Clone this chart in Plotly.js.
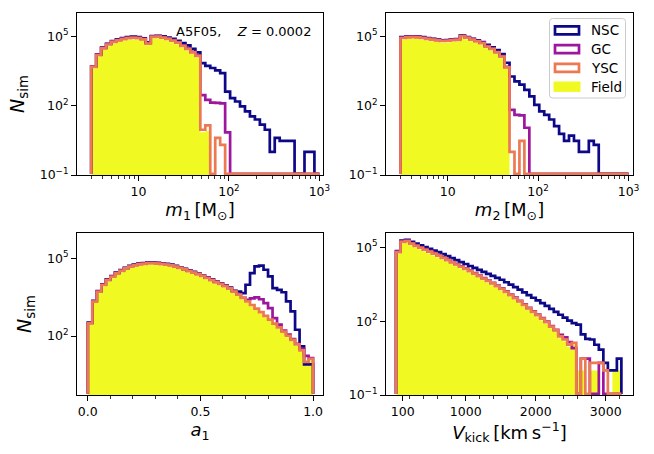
<!DOCTYPE html>
<html><head><meta charset="utf-8">
<script src="https://cdn.plot.ly/plotly-3.0.1.min.js"></script>
<style>html,body{margin:0;padding:0;background:#fff}</style>
</head><body><div id="chart" style="width:654px;height:454px"></div>
<script>
// ---------------- DATA ----------------
const seriesNames = ['NSC', 'GC', 'YSC', 'Field'];
const noteText = 'A5F05,\u00a0\u00a0\u00a0\u00a0<i>Z</i>\u00a0=\u00a00.0002';

// histogram binning (as used by the histogram call)
const massBins = {min: 3, max: 1000, n: 46, log: true};
const spinBins = {min: 0, max: 1, n: 50, log: false};
const kickBins = {min: 4, max: 3224, n: 50, log: false};

// m1 counts per bin
const m1_NSC = [5000,16200,32000,47000,61000,72000,82000,91000,95000,91000,81000,54000,100000,104000,97000,87000,76000,63000,50000,40000,28000,20000,6800,5200,4200,3300,2500,400,210,150,93,56,34,25,15,9,1,4,3,3,3,0,0,1,1,0];
const m1_GC = [4900,15800,31000,45800,59000,69400,77800,85400,89400,85400,76000,50300,98000,100300,91500,79700,67800,55100,40000,29600,21000,14800,280,175,135,130,125,7,0,0,0,0,0,0,0,0,0,0,0,0,0,0,0,0,0,0];
const m1_YSC = [4700,15100,29500,43600,56200,66100,74100,81300,85100,81300,72400,47900,93300,95500,87100,75900,64600,52500,38000,28200,20000,14100,9,14,0,4,2,0,0,0,0,0,0,0,0,0,0,0,0,0,0,0,0,0,0,0];
const m1_Field = [4000,12800,25000,37000,47800,56200,63000,69100,72300,69100,61500,40700,79300,81200,74000,64500,54900,44600,32300,24000,17000,12000,7,8,0,0,0,0,0,0,0,0,0,0,0,0,0,0,0,0,0,0,0,0,0,0];

// m2 counts per bin
const m2_NSC = [89900,96200,98500,96200,89900,82000,76500,71400,66600,68100,73000,74700,108000,91900,76500,65100,55000,42000,33000,25000,16600,7100,1800,1100,800,480,250,107,56,40,25,13,6,3,5,3,1,1,3,2,0,0,0,0,0,0];
const m2_GC = [86500,92700,94800,92700,86500,78900,73600,68700,64200,65600,70300,72000,104000,88500,73600,62700,52100,36900,29300,20800,13700,4700,65,40,38,11,0,0,0,0,0,0,0,0,0,0,0,0,0,0,0,0,0,0,0,0];
const m2_YSC = [83200,89100,91200,89100,83200,75900,70800,66100,61700,63100,67600,69200,100000,85100,70800,60300,50100,35500,28200,20000,13200,4500,1,0,3,0,0,0,0,0,0,0,0,0,0,0,0,0,0,0,0,0,0,0,0,0];
const m2_Field = [70700,75700,77500,75700,70700,64500,60200,56200,52400,53600,57500,58800,85000,72300,60200,51300,42600,30200,24000,17000,11200,3800,0,0,0,0,0,0,0,0,0,0,0,0,0,0,0,0,0,0,0,0,0,0,0,0];

// a1 counts per bin
const a1_NSC = [328,2270,5440,9890,15300,20700,27900,35100,43100,50800,56900,62400,65400,68500,68500,66900,63900,61000,56900,50800,45300,39400,34300,29900,26000,22200,18400,15400,12700,10800,9020,7340,5570,5250,4570,9550,26900,49000,52500,36300,20000,7080,6030,4900,2190,890,174,40,8,8];
const a1_GC = [318,2200,5280,9610,14900,20100,27100,34100,41900,49300,55300,60700,63600,66500,66500,65000,62100,59200,55300,49300,44000,38300,33400,29000,25200,21500,17900,14900,12400,10500,8770,7130,5410,4100,3000,2510,2820,3090,2630,1860,1200,490,275,160,112,76,50,32,17,14];
const a1_YSC = [309,2140,5130,9330,14450,19500,26300,33100,40700,47900,53700,58900,61700,64600,64600,63100,60300,57500,53700,47900,42700,37200,32400,28200,24500,20900,17400,14500,12000,10200,8510,6920,5250,3980,2950,2190,1580,1150,832,603,427,302,214,148,102,71,48,28,10,13];
const a1_Field = [272,1880,4510,8210,12700,17200,23100,29100,35800,42200,47300,51800,54300,56800,56800,55500,53100,50600,47300,42200,37600,32700,28500,24800,21600,18400,15300,12800,10600,8980,7490,6090,4620,3500,2600,1930,1390,1010,732,531,376,266,188,130,90,62,42,25,9,11];

// Vkick counts per bin
const vk_NSC = [69200,186000,200000,166000,141000,120000,102000,87100,74100,63100,52500,43600,36300,30200,25100,20900,17400,14500,12000,10000,8320,6920,5750,4790,3800,3020,2400,1910,1480,1150,891,692,537,417,316,240,182,138,105,83,72,29,19,18,11,7,2,1,1,3];
const vk_GC = [66300,174000,187000,148000,121000,100000,83400,69400,57800,48000,39100,31700,25700,21000,17000,13900,11200,8940,7100,5640,4480,3560,2760,2140,1630,1210,894,663,480,348,252,183,132,96,63,44,28,22,14,8,0,3,3,0,0,2,0,0,0,0];
const vk_YSC = [63100,166000,178000,141000,115000,95500,79400,66100,55000,45700,37200,30200,24500,20000,16200,13200,10700,8510,6760,5370,4270,3390,2630,2040,1550,1150,851,631,457,331,240,174,126,91,60,42,24,18,11,13,0,3,0,2,2,2,1,0,0,0];
const vk_Field = [53600,141000,151000,120000,97800,81200,67500,56200,46800,38800,31600,25700,20800,17000,13800,11200,9100,7230,5750,4560,3630,2880,2240,1730,1320,978,723,536,388,281,204,148,107,77,51,36,20,15,9,11,1,1,0,1,1,0,0,0,1,1];

// tick labels
const massTickVals = [10, 100, 1000];
const massTickText = ['10', '10<sup>2</sup>', '10<sup>3</sup>'];
const countTickVals = [0.1, 100, 100000];
const countTickText = ['10<sup>\u22121</sup>', '10<sup>2</sup>', '10<sup>5</sup>'];
const spinTickVals = [0, 0.5, 1];
const spinTickText = ['0.0', '0.5', '1.0'];
const kickTickVals = [100, 1000, 2000, 3000];
const kickTickText = ['100', '1000', '2000', '3000'];

// ---------------- STYLE ----------------
const W = 654, H = 454;
const fx = x => x / W, fy = y => 1 - y / H;
const COLORS = {NSC: '#0d0887', GC: '#9c179e', YSC: '#ed7953', Field: '#f0f921'};
const FONT = 'DejaVu Sans, Liberation Sans, sans-serif';
const LW = 2.7;

function binEdges(b) {
  const e = [];
  for (let k = 0; k <= b.n; k++) {
    if (b.log) {
      const l0 = Math.log10(b.min), l1 = Math.log10(b.max);
      e.push(Math.pow(10, l0 + (l1 - l0) * k / b.n));
    } else {
      e.push(b.min + (b.max - b.min) * k / b.n);
    }
  }
  return e;
}
function stepXY(edges, counts, floor) {
  const x = [edges[0]], y = [floor];
  for (let i = 0; i < counts.length; i++) {
    x.push(edges[i]);
    y.push(counts[i] > 0 ? counts[i] : floor);
  }
  x.push(edges[edges.length - 1]); y.push(counts[counts.length - 1] > 0 ? counts[counts.length - 1] : floor);
  x.push(edges[edges.length - 1]); y.push(floor);
  return {x, y};
}

const panels = [
  {xa: 'x', ya: 'y', bins: massBins, data: {NSC: m1_NSC, GC: m1_GC, YSC: m1_YSC, Field: m1_Field}, yMinLog: -1},
  {xa: 'x2', ya: 'y2', bins: massBins, data: {NSC: m2_NSC, GC: m2_GC, YSC: m2_YSC, Field: m2_Field}, yMinLog: -1},
  {xa: 'x3', ya: 'y3', bins: spinBins, data: {NSC: a1_NSC, GC: a1_GC, YSC: a1_YSC, Field: a1_Field}, yMinLog: -0.28},
  {xa: 'x4', ya: 'y4', bins: kickBins, data: {NSC: vk_NSC, GC: vk_GC, YSC: vk_YSC, Field: vk_Field}, yMinLog: -1}
];

const traces = [];
panels.forEach(p => {
  const edges = binEdges(p.bins);
  const fillXY = stepXY(edges, p.data.Field, 1e-6);
  traces.push({x: fillXY.x, y: fillXY.y, xaxis: p.xa, yaxis: p.ya, type: 'scatter', mode: 'lines',
    line: {shape: 'hv', width: 0, color: COLORS.Field}, fill: 'toself', fillcolor: COLORS.Field,
    hoverinfo: 'skip', showlegend: false});
  const floor = Math.pow(10, p.yMinLog + 0.045);
  ['NSC', 'GC', 'YSC'].forEach(s => {
    const xy = stepXY(edges, p.data[s], floor);
    traces.push({x: xy.x, y: xy.y, xaxis: p.xa, yaxis: p.ya, type: 'scatter', mode: 'lines',
      line: {shape: 'hv', width: LW, color: COLORS[s]}, hoverinfo: 'skip', showlegend: false});
  });
});

function axisBase() {
  return {showline: true, mirror: true, linecolor: '#000', linewidth: 1, ticks: 'outside', ticklen: 5,
    tickwidth: 1, tickcolor: '#000', showgrid: false, zeroline: false,
    tickfont: {family: FONT, size: 12.5, color: '#000'}};
}
function minorTicks(vals) {
  return {tickmode: 'array', tickvals: vals, ticks: 'outside', ticklen: 3, tickwidth: 0.8, tickcolor: '#000', showgrid: false};
}
const massMinor = [3,4,5,6,7,8,9,20,30,40,50,60,70,80,90,200,300,400,500,600,700,800,900];
const spinMinor = [0.1,0.2,0.3,0.4,0.6,0.7,0.8,0.9];
const kickMinor = [200,400,600,800,1200,1400,1600,1800,2200,2400,2600,2800,3200];
const titleFont = {family: FONT, size: 18, color: '#000'};
const yTitleFont = {family: FONT, size: 19, color: '#000'};
const Nsim = '<i>N</i><sub>sim</sub>';

const xTop = [fx(77), fx(323)], xRight = [fx(386), fx(633)];
const yTop = [fy(175), fy(13)], yBot = [fy(395), fy(233)];

const layout = {
  width: W, height: H, margin: {l: 0, r: 0, t: 0, b: 0},
  paper_bgcolor: '#fff', plot_bgcolor: '#fff', showlegend: false,
  font: {family: FONT, color: '#000'},
  xaxis: Object.assign(axisBase(), {domain: xTop, anchor: 'y', type: 'log', range: [0.32, 3.04],
    tickmode: 'array', tickvals: massTickVals, ticktext: massTickText, minor: minorTicks(massMinor),
    title: {text: '<i>m</i><sub>1</sub>\u2009[M<sub>\u2299</sub>]', font: titleFont, standoff: 5}}),
  yaxis: Object.assign(axisBase(), {domain: yTop, anchor: 'x', type: 'log', range: [-1, 6],
    tickmode: 'array', tickvals: countTickVals, ticktext: countTickText,
    title: {text: Nsim, font: yTitleFont, standoff: 10}}),
  xaxis2: Object.assign(axisBase(), {domain: xRight, anchor: 'y2', type: 'log', range: [0.317, 3.05],
    tickmode: 'array', tickvals: massTickVals, ticktext: massTickText, minor: minorTicks(massMinor),
    title: {text: '<i>m</i><sub>2</sub>\u2009[M<sub>\u2299</sub>]', font: titleFont, standoff: 5}}),
  yaxis2: Object.assign(axisBase(), {domain: yTop, anchor: 'x2', type: 'log', range: [-1, 6],
    tickmode: 'array', tickvals: countTickVals, ticktext: countTickText}),
  xaxis3: Object.assign(axisBase(), {domain: xTop, anchor: 'y3', type: 'linear', range: [-0.048, 1.044],
    tickmode: 'array', tickvals: spinTickVals, ticktext: spinTickText, minor: minorTicks(spinMinor),
    title: {text: '<i>a</i><sub>1</sub>', font: titleFont, standoff: 5}}),
  yaxis3: Object.assign(axisBase(), {domain: yBot, anchor: 'x3', type: 'log', range: [-0.28, 5.98],
    tickmode: 'array', tickvals: countTickVals, ticktext: countTickText,
    title: {text: Nsim, font: yTitleFont, standoff: 10}}),
  xaxis4: Object.assign(axisBase(), {domain: xRight, anchor: 'y4', type: 'linear', range: [-139, 3390],
    tickmode: 'array', tickvals: kickTickVals, ticktext: kickTickText, minor: minorTicks(kickMinor),
    title: {text: '<i>V</i><sub>kick</sub>\u2009[km\u2009s<sup>\u22121</sup>]', font: titleFont, standoff: 5}}),
  yaxis4: Object.assign(axisBase(), {domain: yBot, anchor: 'x4', type: 'log', range: [-1, 5.58],
    tickmode: 'array', tickvals: countTickVals, ticktext: countTickText}),
  annotations: [],
  shapes: []
};

// note in first panel
layout.annotations.push({xref: 'paper', yref: 'paper', x: fx(313), y: fy(32), xanchor: 'right', yanchor: 'middle',
  text: noteText, showarrow: false, font: {family: FONT, size: 13, color: '#000'}});

// legend (drawn by hand to mimic outlined patches)
function roundRect(x0, y0, x1, y1, r) {
  const X = v => fx(v).toFixed(5), Y = v => fy(v).toFixed(5);
  return `M ${X(x0 + r)},${Y(y0)} L ${X(x1 - r)},${Y(y0)} Q ${X(x1)},${Y(y0)} ${X(x1)},${Y(y0 + r)} ` +
    `L ${X(x1)},${Y(y1 - r)} Q ${X(x1)},${Y(y1)} ${X(x1 - r)},${Y(y1)} L ${X(x0 + r)},${Y(y1)} ` +
    `Q ${X(x0)},${Y(y1)} ${X(x0)},${Y(y1 - r)} L ${X(x0)},${Y(y0 + r)} Q ${X(x0)},${Y(y0)} ${X(x0 + r)},${Y(y0)} Z`;
}
layout.shapes.push({type: 'path', xref: 'paper', yref: 'paper', path: roundRect(549.5, 18.5, 625.5, 98, 3),
  line: {color: '#cccccc', width: 1}, fillcolor: 'rgba(255,255,255,0.8)', layer: 'above'});
const legY0 = 30.3, legStep = 18.8;
seriesNames.forEach((s, i) => {
  const cy = legY0 + i * legStep;
  if (s === 'Field') {
    layout.shapes.push({type: 'rect', xref: 'paper', yref: 'paper', x0: fx(553.5), x1: fx(580.5), y0: fy(cy - 5.2), y1: fy(cy + 5.2),
      line: {width: 0}, fillcolor: COLORS[s], layer: 'above'});
  } else {
    layout.shapes.push({type: 'rect', xref: 'paper', yref: 'paper', x0: fx(555), x1: fx(579), y0: fy(cy - 4), y1: fy(cy + 4),
      line: {width: LW, color: COLORS[s]}, fillcolor: 'rgba(0,0,0,0)', layer: 'above'});
  }
  layout.annotations.push({xref: 'paper', yref: 'paper', x: fx(589), y: fy(cy), xanchor: 'left', yanchor: 'middle',
    text: s, showarrow: false, font: {family: FONT, size: 13.5, color: '#000'}});
});

Plotly.newPlot('chart', traces, layout, {displayModeBar: false, staticPlot: true});
</script>
</body></html>
